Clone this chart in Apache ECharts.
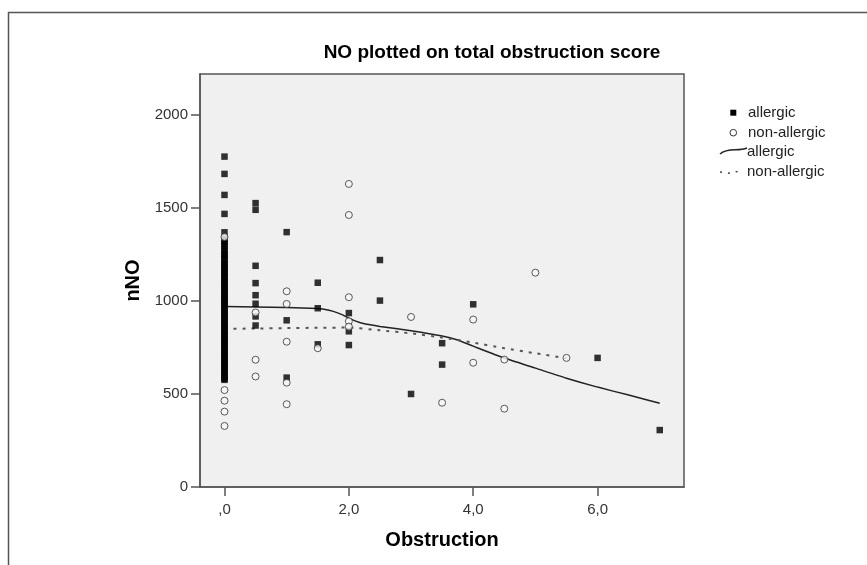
<!DOCTYPE html>
<html>
<head>
<meta charset="utf-8">
<script src="https://cdn.jsdelivr.net/npm/echarts@6/dist/echarts.min.js"></script>
<style>
html,body{margin:0;padding:0;background:#fff;}
#chart{width:867px;height:565px;}
</style>
</head>
<body>
<div id="chart"></div>
<script>
// ---- data ----
const allergicZeroNO = [1776,1683,1570,1468,1369,1332,1321,1306,1294,1279,1266,1252,1243,1229,1217,1203,1196,1183,1174,1161,1149,1142,1128,1121,1108,1102,1089,1080,1072,1059,1053,1039,1032,1020,1011,999,993,979,972,960,951,938,932,919,913,899,891,878,872,860,851,838,833,819,812,798,791,779,772,758,752,739,731,719,711,698,691,679,671,658,651,639,631,618,612,598,591,582,576];
const allergicObs = [0.5,0.5,0.5,0.5,0.5,0.5,0.5,0.5, 1,1,1, 1.5,1.5,1.5, 2,2,2, 2.5,2.5, 3, 3.5,3.5, 4, 6, 7];
const allergicNO  = [1526,1490,1189,1096,1031,985,917,868, 1370,896,588, 1098,961,767, 935,837,763, 1220,1002, 500, 773,658, 982, 694, 306];
const nonAllergicObs = [0,0,0,0,0, 0.5,0.5,0.5, 1,1,1,1,1, 1.5, 2,2,2,2,2, 3, 3.5, 4,4, 4.5,4.5, 5, 5.5];
const nonAllergicNO  = [1344,521,464,405,328, 938,684,594, 1052,984,781,561,445, 746, 1629,1462,1020,891,862, 914, 453, 900,668, 685,421, 1152, 694];
const allergicFitObs = [0,0.5,1,1.5,1.6,1.75,1.9,2,2.1,2.25,2.5,3,3.5,3.75,4,4.5,5,5.5,6,6.5,7];
const allergicFitNO  = [970,968,965,960,956,944,925,908,893,877,863,840,812,790,757,693,639,585,537,494,450];
const nonAllergicFitObs = [0,0.5,1,1.5,2,2.5,3,3.5,4,4.5,5,5.5];
const nonAllergicFitNO  = [850,852,854,856,857,842,826,803,776,746,719,692];
const xTicks = [0,2,4,6];
const yTicks = [0,500,1000,1500,2000];
const titleText = 'NO plotted on total obstruction score';
const xName = 'Obstruction';
const yName = 'nNO';
const legendLabels = ['allergic','non-allergic','allergic','non-allergic'];

const zip = (xs, ys) => xs.map((x, i) => [x, ys[i]]);
const FONT = '"Liberation Sans", Arial, sans-serif';

const chart = echarts.init(document.getElementById('chart'), null, {renderer: 'canvas'});
const rowY = [112.7, 132.7, 151.7, 171.7];

chart.setOption({
  animation: false,
  backgroundColor: '#ffffff',
  textStyle: {fontFamily: FONT},
  grid: {
    left: 200, top: 74, width: 484, height: 413,
    show: true, backgroundColor: '#f0f0f0', borderColor: '#555', borderWidth: 1.5,
    containLabel: false
  },
  xAxis: {
    type: 'value', min: -0.394, max: 7.39,
    name: xName, nameLocation: 'middle', nameGap: 43,
    nameTextStyle: {fontFamily: FONT, fontWeight: 'bold', fontSize: 20, color: '#000'},
    axisLine: {show: true, onZero: false, lineStyle: {color: '#555', width: 1.5}},
    axisTick: {show: true, customValues: xTicks, length: 9, lineStyle: {color: '#555', width: 1.5}},
    axisLabel: {show: true, customValues: xTicks, margin: 15, fontSize: 15, color: '#333', fontFamily: FONT,
      formatter: v => v === 0 ? ',0' : v.toFixed(1).replace('.', ',')},
    splitLine: {show: false}
  },
  yAxis: {
    type: 'value', min: 0, max: 2220,
    name: yName, nameLocation: 'middle', nameGap: 50, nameRotate: 90,
    nameTextStyle: {fontFamily: FONT, fontWeight: 'bold', fontSize: 20, color: '#000'},
    axisLine: {show: true, onZero: false, lineStyle: {color: '#555', width: 1.5}},
    axisTick: {show: true, customValues: yTicks, length: 9, lineStyle: {color: '#555', width: 1.5}},
    axisLabel: {show: true, customValues: yTicks, margin: 12, fontSize: 15, color: '#333', fontFamily: FONT,
      formatter: v => String(v)},
    splitLine: {show: false}
  },
  series: [
    {
      name: 'allergic fit', type: 'line', data: zip(allergicFitObs, allergicFitNO),
      showSymbol: false, smooth: 0.2, z: 2,
      lineStyle: {color: '#222', width: 1.5}
    },
    {
      name: 'non-allergic fit', type: 'line', data: zip(nonAllergicFitObs, nonAllergicFitNO),
      showSymbol: false, smooth: 0.2, z: 2,
      lineStyle: {color: '#555', width: 2, type: [3, 6]}
    },
    {
      name: 'allergic', type: 'scatter', z: 3,
      data: zip(allergicZeroNO.map(() => 0), allergicZeroNO).concat(zip(allergicObs, allergicNO)),
      symbol: 'rect', symbolSize: 6.5,
      itemStyle: {color: '#000'}
    },
    {
      name: 'non-allergic', type: 'scatter', z: 4,
      data: zip(nonAllergicObs, nonAllergicNO),
      symbol: 'circle', symbolSize: 7,
      itemStyle: {color: '#f6f6f6', borderColor: '#333', borderWidth: 1}
    }
  ],
  graphic: [
    {type: 'rect', shape: {x: 8.5, y: 12.5, width: 900, height: 600}, style: {fill: 'none', stroke: '#555', lineWidth: 1.5}, silent: true, z: -10},
    {type: 'text', x: 492, y: 53, style: {text: titleText, font: 'bold 19px ' + FONT, fill: '#000', textAlign: 'center', textVerticalAlign: 'middle'}},
    {type: 'rect', shape: {x: 730.3, y: rowY[0] - 3, width: 6, height: 6}, style: {fill: '#000'}},
    {type: 'circle', shape: {cx: 733.3, cy: rowY[1], r: 3.3}, style: {fill: '#fff', stroke: '#333', lineWidth: 1}},
    {type: 'bezierCurve', shape: {x1: 720, y1: 154, cpx1: 728, cpy1: 147, cpx2: 738, cpy2: 152, x2: 747, y2: 148}, style: {fill: 'none', stroke: '#222', lineWidth: 1.5}},
    {type: 'polyline', shape: {points: [[720, 172], [731, 173.5], [742, 170]]}, style: {fill: 'none', stroke: '#444', lineWidth: 1.5, lineDash: [2, 6]}},
    {type: 'text', x: 748, y: rowY[0], style: {text: legendLabels[0], font: '15px ' + FONT, fill: '#222', textVerticalAlign: 'middle'}},
    {type: 'text', x: 748, y: rowY[1], style: {text: legendLabels[1], font: '15px ' + FONT, fill: '#222', textVerticalAlign: 'middle'}},
    {type: 'text', x: 747, y: rowY[2], style: {text: legendLabels[2], font: '15px ' + FONT, fill: '#222', textVerticalAlign: 'middle'}},
    {type: 'text', x: 747, y: rowY[3], style: {text: legendLabels[3], font: '15px ' + FONT, fill: '#222', textVerticalAlign: 'middle'}}
  ]
});
</script>
</body>
</html>
